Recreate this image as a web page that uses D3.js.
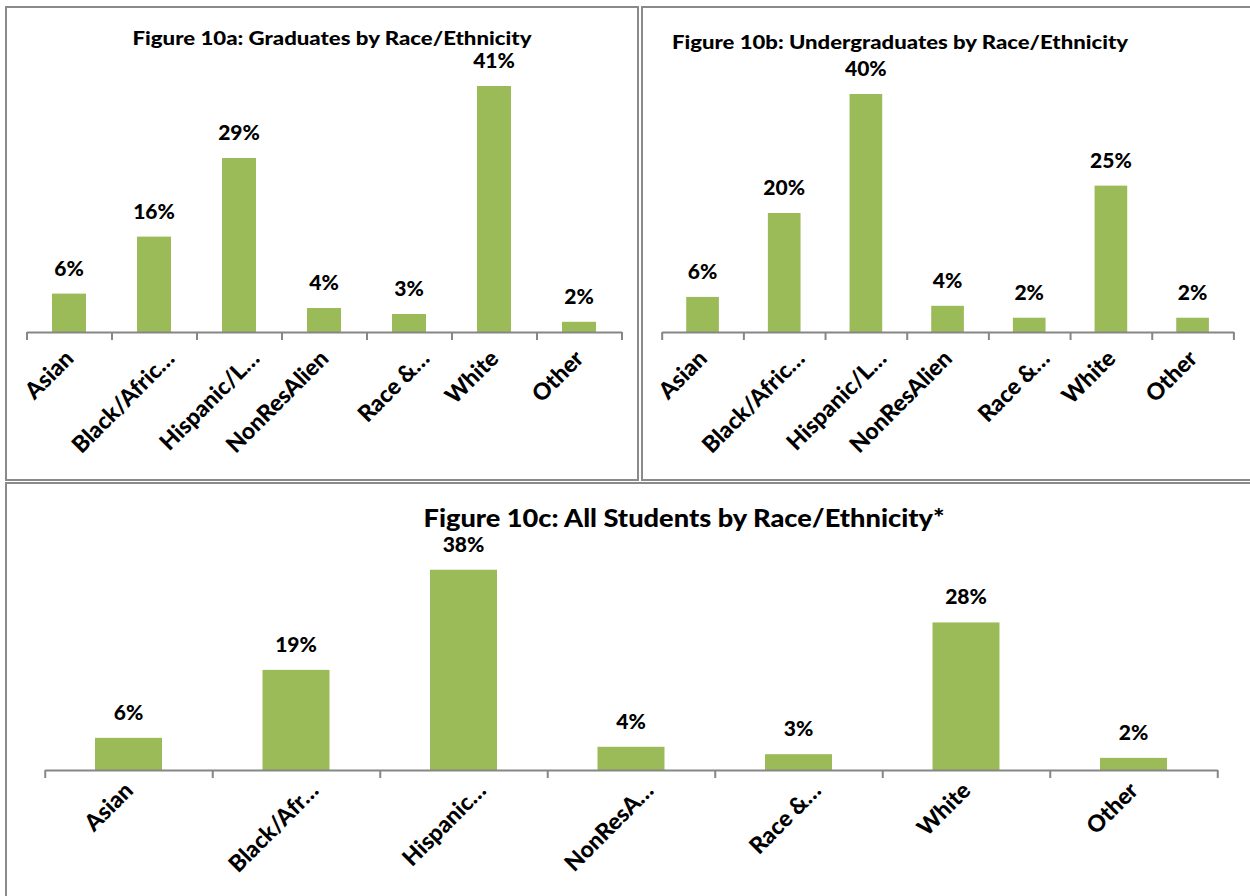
<!DOCTYPE html>
<html>
<head>
<meta charset="utf-8">
<script src="https://cdn.jsdelivr.net/npm/d3@7"></script>
<style>
  html, body { margin: 0; padding: 0; background: #ffffff; }
  svg { display: block; }
  text { font-family: Lato, "Open Sans", sans-serif; font-weight: 900; fill: #000; }
</style>
</head>
<body>
<svg id="chart" width="1250" height="896"></svg>
<script>
// ---- data ----
const categoriesA = ["Asian", "Black/Afric…", "Hispanic/L…", "NonResAlien", "Race &…", "White", "Other"];
const valuesA = [6.4, 15.9, 29, 4.0, 3.0, 41, 1.7];

const categoriesB = ["Asian", "Black/Afric…", "Hispanic/L…", "NonResAlien", "Race &…", "White", "Other"];
const valuesB = [5.9, 20, 40, 4.4, 2.4, 24.6, 2.4];

const categoriesC = ["Asian", "Black/Afr…", "Hispanic…", "NonResA…", "Race &…", "White", "Other"];
const valuesC = [6.1, 19, 38, 4.4, 3.0, 28, 2.3];

const titleA = "Figure 10a: Graduates by Race/Ethnicity";
const titleB = "Figure 10b: Undergraduates by Race/Ethnicity";
const titleC = "Figure 10c: All Students by Race/Ethnicity*";

const BAR = "#9BBB59";
const AXIS = "#868686";
const BORDER = "#8a8a8a";

const svg = d3.select("#chart");

// panel borders
svg.append("rect").attr("x", 6).attr("y", 7).attr("width", 632).attr("height", 473)
  .attr("fill", "none").attr("stroke", BORDER).attr("stroke-width", 2);
svg.append("rect").attr("x", 642).attr("y", 7).attr("width", 620).attr("height", 473)
  .attr("fill", "none").attr("stroke", BORDER).attr("stroke-width", 2);
svg.append("rect").attr("x", 6).attr("y", 483).attr("width", 1260).attr("height", 430)
  .attr("fill", "none").attr("stroke", BORDER).attr("stroke-width", 2);

function drawPanel(cfg) {
  const g = svg.append("g");
  const x = d3.scaleBand().domain(cfg.cats).range([cfg.x0, cfg.x1])
    .paddingInner(0.6).paddingOuter(0.3);
  const y = d3.scaleLinear().domain([0, cfg.ymax]).range([cfg.base, cfg.top]);

  // title
  g.append("text").attr("x", cfg.titleX).attr("y", cfg.titleY)
    .attr("text-anchor", "middle").attr("font-size", cfg.titleSize)
    .attr("textLength", cfg.titleLen).attr("lengthAdjust", "spacingAndGlyphs")
    .text(cfg.title);

  // bars
  g.selectAll("rect.bar").data(cfg.vals).enter().append("rect")
    .attr("class", "bar")
    .attr("x", (d, i) => x(cfg.cats[i]))
    .attr("width", x.bandwidth())
    .attr("y", d => y(d))
    .attr("height", d => cfg.base - y(d))
    .attr("fill", BAR);

  // value labels
  g.selectAll("text.val").data(cfg.vals).enter().append("text")
    .attr("class", "val")
    .attr("x", (d, i) => x(cfg.cats[i]) + x.bandwidth() / 2)
    .attr("y", d => y(d) - 18)
    .attr("text-anchor", "middle")
    .attr("font-size", cfg.valSize)
    .text(d => Math.round(d) + "%");

  // axis with tick marks between categories
  const tickScale = d3.scaleLinear().domain([0, cfg.cats.length]).range([cfg.x0, cfg.x1]);
  const axis = d3.axisBottom(tickScale)
    .tickValues(d3.range(cfg.cats.length + 1))
    .tickFormat("").tickSize(8).tickSizeOuter(0);
  const ag = g.append("g").attr("transform", `translate(0,${cfg.base})`).call(axis);
  ag.select(".domain").attr("stroke", AXIS).attr("stroke-width", 2);
  ag.selectAll(".tick line").attr("stroke", AXIS).attr("stroke-width", 2);

  // category labels (rotated)
  g.selectAll("text.cat").data(cfg.cats).enter().append("text")
    .attr("class", "cat")
    .attr("text-anchor", "end")
    .attr("font-size", cfg.catSize)
    .attr("transform", d => {
      const extra = d.endsWith("…") ? cfg.ellShift : 0;
      return `translate(${x(d) + x.bandwidth() / 2 + cfg.catDx + extra},${cfg.base + cfg.catDy}) rotate(-45)`;
    })
    .text(d => d);
}

drawPanel({
  cats: categoriesA, vals: valuesA, title: titleA,
  x0: 26.5, x1: 621.5, base: 332, top: 62, ymax: 45,
  titleX: 332, titleY: 45, titleSize: 19, titleLen: 399,
  valSize: 21, catSize: 23, catDx: 6, catDy: 28, ellShift: 16
});

drawPanel({
  cats: categoriesB, vals: valuesB, title: titleB,
  x0: 661.7, x1: 1233.4, base: 332, top: 64.25, ymax: 45,
  titleX: 900, titleY: 49, titleSize: 19, titleLen: 456,
  valSize: 21, catSize: 23, catDx: 6, catDy: 28, ellShift: 16
});

drawPanel({
  cats: categoriesC, vals: valuesC, title: titleC,
  x0: 44.75, x1: 1217.25, base: 770, top: 559.2, ymax: 40,
  titleX: 684, titleY: 527, titleSize: 25, titleLen: 521,
  valSize: 21, catSize: 23, catDx: 6, catDy: 22, ellShift: 18
});
</script>
</body>
</html>
